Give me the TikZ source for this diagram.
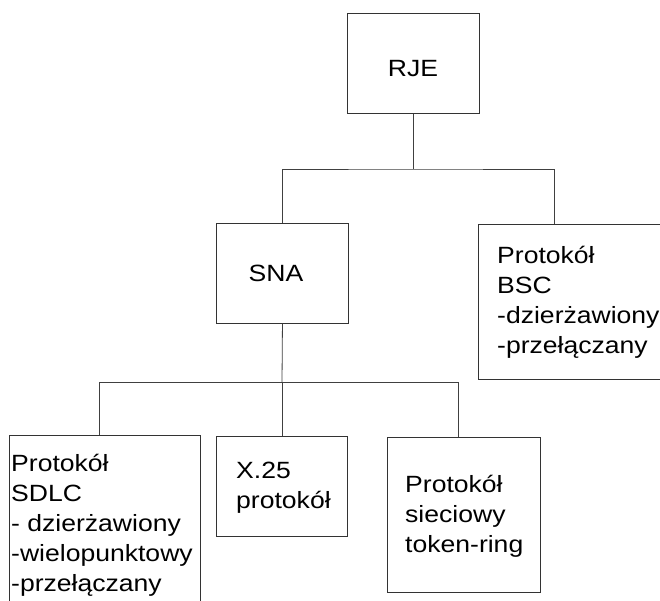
\documentclass[tikz,border=0pt]{standalone}
\usepackage{fontspec}
\setmainfont{Liberation Sans}[FakeStretch=1.13]
\begin{document}
\begin{tikzpicture}[x=1pt,y=-1pt,
  box/.style={draw=black!80, line width=0.9pt, rectangle, inner sep=0pt, anchor=north west},
  lbl/.style={inner sep=0pt, text=black, font=\fontsize{23.5}{30}\selectfont},
  wire/.style={draw=black!75, line width=0.8pt}]
\clip (0,0) rectangle (660,600);
\fill[white] (0,0) rectangle (660,600);

% boxes (top-left corner, size)
\node[box, minimum width=132pt, minimum height=100pt] (rje)  at (347,13)  {};
\node[box, minimum width=132pt, minimum height=100pt] (sna)  at (216,223) {};
\node[box, minimum width=200pt, minimum height=155pt] (bsc)  at (478,224) {};
\node[box, minimum width=191pt, minimum height=190pt] (sdlc) at (9,435)   {};
\node[box, minimum width=131pt, minimum height=100pt] (x25)  at (216,436) {};
\node[box, minimum width=153pt, minimum height=155pt] (tok)  at (387,437) {};

% labels
\node[lbl, anchor=base] (trje) at (413,76) {RJE};
\node[lbl, anchor=base] (tsna) at (276,281) {SNA};
\node[lbl, anchor=base west] (tbsc) at (497,263)
  {\begin{tabular}[t]{@{}l@{}}Protokół\\BSC\\-dzierżawiony\\-przełączany\end{tabular}};
\node[lbl, anchor=base west] (tsdlc) at (11,471)
  {\begin{tabular}[t]{@{}l@{}}Protokół\\SDLC\\- dzierżawiony\\-wielopunktowy\\-przełączany\end{tabular}};
\node[lbl, anchor=base west] (tx25) at (236,478)
  {\begin{tabular}[t]{@{}l@{}}X.25\\protokół\end{tabular}};
\node[lbl, anchor=base west] (ttok) at (405,492)
  {\begin{tabular}[t]{@{}l@{}}Protokół\\sieciowy\\token-ring\end{tabular}};

% tree connectors
\coordinate (bus1) at (413,169);
\coordinate (bus2) at (282,382);
\draw[wire] (rje.south -| bus1) -- (bus1);
\draw[wire] (sna.north) |- (bus1) -| ([xshift=76pt]bsc.north west);
\draw[wire] (sna.south) -- (bus2);
\draw[wire] (bus2) -| ([xshift=90pt]sdlc.north west);
\draw[wire] (bus2) -| ([xshift=71pt]tok.north west);
\draw[wire] (bus2) -- (bus2 |- x25.north);
\end{tikzpicture}
\end{document}
